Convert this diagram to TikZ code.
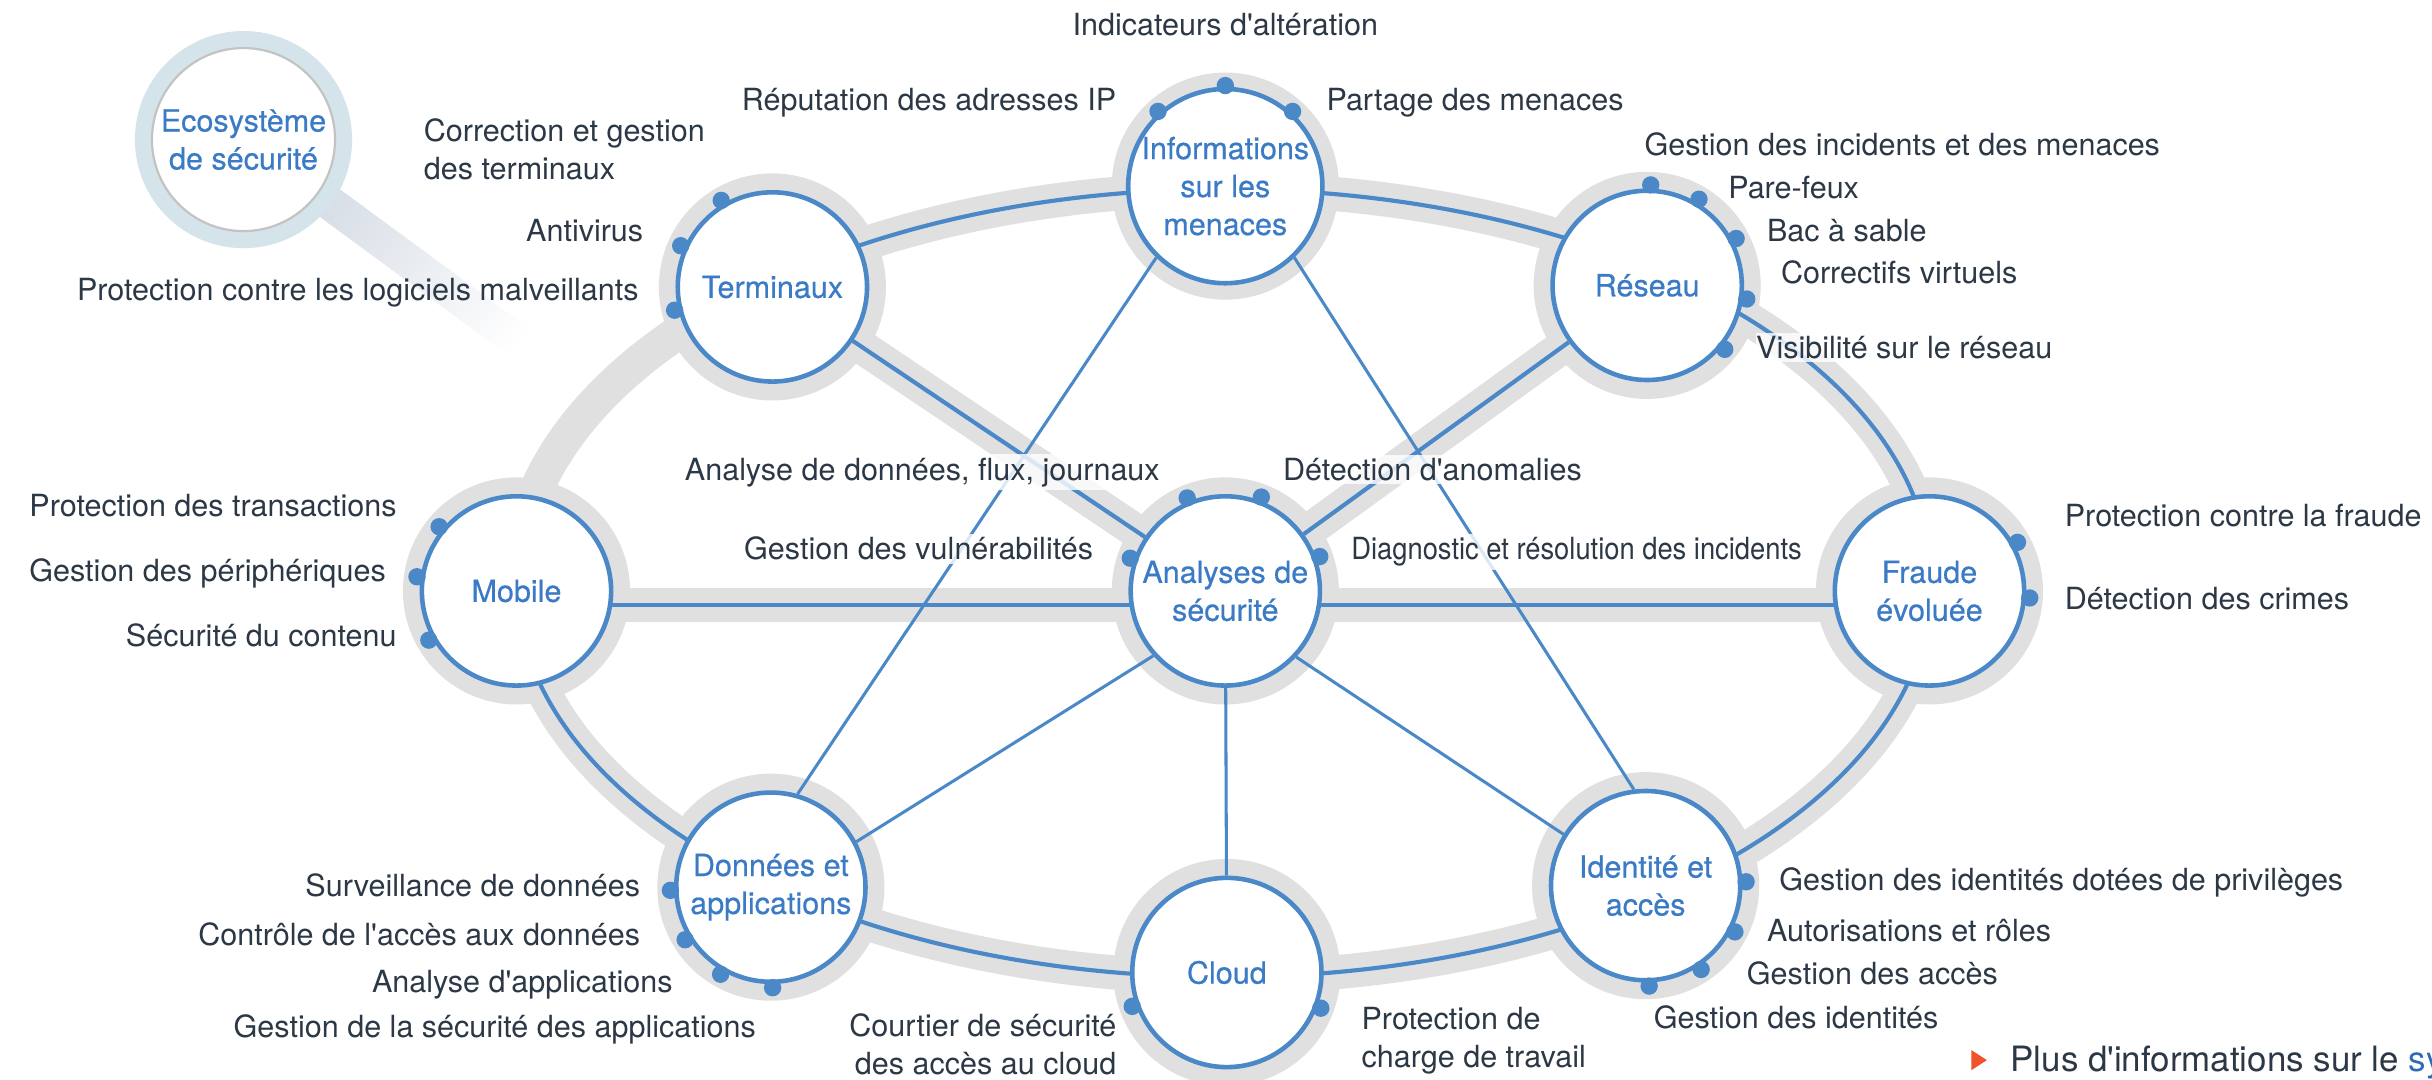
\documentclass[tikz,border=0pt]{standalone}
\usepackage{fontspec}
\setmainfont{TeX Gyre Heros}
\newfontfamily\hubfont{TeX Gyre Heros}[FakeBold=0.5]
\usepackage{xcolor}
\usepackage{tikz}
\usetikzlibrary{positioning, calc, backgrounds}

\definecolor{hubblue}{HTML}{4A88C8}
\definecolor{hubtext}{HTML}{3B7BC6}
\definecolor{bandgray}{HTML}{E0E0E0}
\definecolor{labeltext}{HTML}{2C3845}
\definecolor{glassring}{HTML}{D5E3EA}
\definecolor{glassedge}{HTML}{C3C3C3}
\definecolor{handlegray}{HTML}{D9DFE7}
\definecolor{bulletorange}{HTML}{F0532A}
\definecolor{linkblue}{HTML}{2D6CB5}

\newcommand{\apo}{\textquotesingle}

\tikzset{
  hub/.style={circle, draw=hubblue, line width=2.1pt, fill=white, minimum size=3.05cm, inner sep=0pt,
    align=center, text=hubtext, font=\hubfont\fontsize{14pt}{17.4pt}\selectfont},
  greyband/.style={draw=bandgray, line width=0.55cm},
  ringlink/.style={draw=hubblue, line width=1.9pt},
  thinlink/.style={draw=hubblue, line width=1.4pt},
  subdot/.style={fill=hubblue},
  lbl/.style={font=\fontsize{14pt}{17.4pt}\selectfont, text=labeltext, inner xsep=0pt, inner ysep=1.5pt,
    fill=white, fill opacity=0.8, text opacity=1},
}

\begin{document}
\begin{tikzpicture}[x=0.025cm, y=-0.025cm]
  \useasboundingbox (0,0) rectangle (1568,696.3);
  % security ecosystem hubs
  \node[hub] (info) at (790,120) {Informations\\sur les\\menaces};
  \node[hub] (term) at (498,185) {Terminaux};
  \node[hub] (res) at (1062,184) {Réseau};
  \node[hub] (mob) at (333,381) {Mobile};
  \node[hub] (ana) at (790,381) {Analyses de\\sécurité};
  \node[hub] (fra) at (1244,381) {Fraude\\évoluée};
  \node[hub] (don) at (497,572) {Données et\\applications};
  \node[hub] (cld) at (791,627) {Cloud};
  \node[hub] (ida) at (1061,571) {Identité et\\accès};

  % ring, bands and links behind the hubs
  \begin{scope}[on background layer]
    \draw[greyband] (789,376) ellipse [x radius=456, y radius=254];
    \draw[greyband] (term.center) -- (ana.center);
    \draw[greyband] (res.center) -- (ana.center);
    \draw[greyband] ([yshift=-0.225cm]mob.center) -- ([yshift=-0.225cm]fra.center);
    \foreach \n in {info,term,res,mob,ana,fra,don,cld,ida}
      \fill[bandgray] (\n.center) circle (1.83cm);
    \draw[ringlink] (789,376) ++(229.7:456 and 254) arc [start angle=229.7, end angle=538.9, x radius=456, y radius=254];
    \draw[ringlink] (term) -- (ana);
    \draw[ringlink] (ana) -- (res);
    \draw[ringlink] ([yshift=-0.225cm]mob.center) -- ([yshift=-0.225cm]fra.center);
    \draw[thinlink] (info.226) -- (don.74);
    \draw[thinlink] (info.314) -- (ida.97);
    \draw[thinlink] (ana.222) -- (don.28);
    \draw[thinlink] (ana) -- (cld);
    \draw[thinlink] (ana.317) -- (ida.148);
  \end{scope}

  % dots for the sub-topics
  \foreach \a in {120.6,155.8,193.4} \fill[subdot] (term.center) ++(\a:1.62cm) circle (0.14cm);
  \foreach \a in {90,132,48} \fill[subdot] (info.center) ++(\a:1.62cm) circle (0.14cm);
  \foreach \a in {88,59,27.8,-7.8,-39.5} \fill[subdot] (res.center) ++(\a:1.62cm) circle (0.14cm);
  \foreach \a in {28.9,-4} \fill[subdot] (fra.center) ++(\a:1.62cm) circle (0.14cm);
  \foreach \a in {140.3,171.9,209.3} \fill[subdot] (mob.center) ++(\a:1.62cm) circle (0.14cm);
  \foreach \a in {112.3,69,161,20} \fill[subdot] (ana.center) ++(\a:1.62cm) circle (0.14cm);
  \foreach \a in {181.8,211.5,240,271} \fill[subdot] (don.center) ++(\a:1.62cm) circle (0.14cm);
  \foreach \a in {199.7,-20.8} \fill[subdot] (cld.center) ++(\a:1.62cm) circle (0.14cm);
  \foreach \a in {2.2,-27.4,-56.5,-88} \fill[subdot] (ida.center) ++(\a:1.62cm) circle (0.14cm);

  % magnifier
  \coordinate (eco) at (157,90);
  \shade[top color=handlegray, middle color=handlegray!70!white, bottom color=white, shading angle=53.7]
    (207.8,113.7) -- (356.9,223.2) -- (343.9,241) -- (194.8,131.5) -- cycle;
  \fill[glassring] (eco) circle (1.75cm);
  \node[circle, draw=glassedge, line width=1pt, fill=white, minimum size=2.95cm, inner sep=0pt, align=center,
    text=hubtext, font=\hubfont\fontsize{14pt}{17.4pt}\selectfont] (glass) at (eco) {Ecosystème\\de sécurité};

  % labels
  \node[lbl, anchor=base] (ialt) at (790,22.6) {Indicateurs d\apo altération};
  \node[lbl, anchor=base east] (irep) at (720,71) {Réputation des adresses IP};
  \node[lbl, anchor=base west] (ipar) at (855,71) {Partage des menaces};

  \node[lbl, anchor=north west, align=left] (tcor) at (273,74) {Correction et gestion\\des terminaux};
  \node[lbl, anchor=base east] (tant) at (415,156) {Antivirus};
  \node[lbl, anchor=base east, fill=none] (tmal) at (412,194) {Protection contre les logiciels malveillants};

  \node[lbl, anchor=base west] (rinc) at (1060,100) {Gestion des incidents et des menaces};
  \node[lbl, anchor=base west] (rpar) at (1114,128) {Pare-feux};
  \node[lbl, anchor=base west] (rbac) at (1139,156) {Bac à sable};
  \node[lbl, anchor=base west] (rcor) at (1148,183) {Correctifs virtuels};
  \node[lbl, anchor=base west] (rvis) at (1132,231) {Visibilité sur le réseau};

  \node[lbl, anchor=base east] (mtra) at (256,333) {Protection des transactions};
  \node[lbl, anchor=base east] (mper) at (249,375) {Gestion des périphériques};
  \node[lbl, anchor=base east] (mcon) at (256,417) {Sécurité du contenu};

  \node[lbl, anchor=base east] (aflu) at (748,309.5) {Analyse de données, flux, journaux};
  \node[lbl, anchor=base west] (aano) at (827,309.5) {Détection d\apo anomalies};
  \node[lbl, anchor=base east] (avul) at (705,361) {Gestion des vulnérabilités};
  \node[lbl, anchor=base west] (adia) at (871,361) {\scalebox{0.895}[1]{Diagnostic et résolution des incidents}};

  \node[lbl, anchor=base west] (fpro) at (1331,339.6) {Protection contre la fraude};
  \node[lbl, anchor=base west] (fcri) at (1331,393) {Détection des crimes};

  \node[lbl, anchor=base east] (dsur) at (413,578) {Surveillance de données};
  \node[lbl, anchor=base east] (dcon) at (413,609.5) {Contrôle de l\apo accès aux données};
  \node[lbl, anchor=base east] (dana) at (434,640) {Analyse d\apo applications};
  \node[lbl, anchor=base east] (dges) at (487.6,668.6) {Gestion de la sécurité des applications};

  \node[lbl, anchor=north east, align=right] (ccou) at (720,651) {Courtier de sécurité\\des accès au cloud};
  \node[lbl, anchor=north west, align=left] (cpro) at (877.6,647) {Protection de\\charge de travail};

  \node[lbl, anchor=base west] (idpri) at (1147,574) {Gestion des identités dotées de privilèges};
  \node[lbl, anchor=base west] (idaut) at (1139,607) {Autorisations et rôles};
  \node[lbl, anchor=base west] (idacc) at (1126,635) {Gestion des accès};
  \node[lbl, anchor=base west] (idide) at (1066,663) {Gestion des identités};

  % more information link
  \fill[bulletorange] (1271,677) -- (1281,683.5) -- (1271,690) -- cycle;
  \node[lbl, anchor=base west, fill=none, font=\fontsize{16pt}{19pt}\selectfont] (more) at (1296,691)
    {Plus d\apo informations sur le \textcolor{linkblue}{\underline{sy}}};
\end{tikzpicture}
\end{document}
